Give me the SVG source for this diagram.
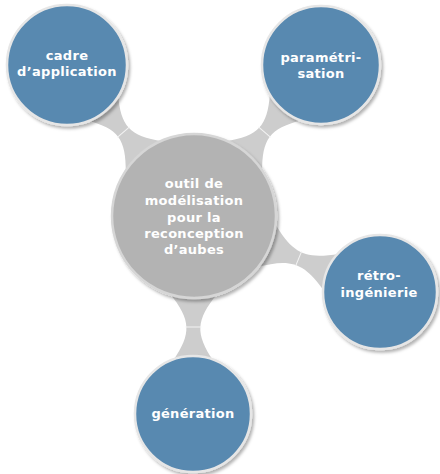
<svg xmlns="http://www.w3.org/2000/svg" width="440" height="474" viewBox="0 0 440 474">
<defs>
<filter id="sh" x="-20%" y="-20%" width="150%" height="150%">
<feDropShadow dx="2" dy="2.5" stdDeviation="1.5" flood-color="#000" flood-opacity="0.3"/>
</filter>
<style>
.conn{fill:#cdcdcd;}
.tick{stroke:#f4f4f4;stroke-width:1;}
.node{fill:#5889b0;stroke:#e6e6e6;stroke-width:2.5;filter:url(#sh);}
.hub{fill:#b3b3b3;stroke:#d6d6d6;stroke-width:2.5;filter:url(#sh);}
text{font-family:"DejaVu Sans",Verdana,sans-serif;font-weight:bold;font-size:13px;fill:#ffffff;text-anchor:middle;letter-spacing:0.3px;}
</style>
</defs>
<rect width="440" height="474" fill="#ffffff"/>
<g id="connectors">
<g transform="translate(194,216) rotate(-130.07)">
<path class="conn" d="M77.4,-24 C103.1,-2 116,-2 141.7,-20 L141.7,20 C116,2 103.1,2 77.4,24 Z"/>
<line class="tick" x1="109.6" y1="-8" x2="109.6" y2="8"/>
</g>
<g transform="translate(194,216) rotate(-49.93)">
<path class="conn" d="M77.4,-24 C103.1,-2 116,-2 141.7,-20 L141.7,20 C116,2 103.1,2 77.4,24 Z"/>
<line class="tick" x1="109.6" y1="-8" x2="109.6" y2="8"/>
</g>
<g transform="translate(194,216) rotate(22.22)">
<path class="conn" d="M77.4,-24 C105.8,-2 120.1,-2 148.5,-20 L148.5,20 C120.1,2 105.8,2 77.4,24 Z"/>
<line class="tick" x1="113" y1="-8" x2="113" y2="8"/>
</g>
<g transform="translate(194,216) rotate(90.29)">
<path class="conn" d="M77.4,-24 C104.3,-2 117.7,-2 144.6,-20 L144.6,20 C117.7,2 104.3,2 77.4,24 Z"/>
<line class="tick" x1="111" y1="-8" x2="111" y2="8"/>
</g>
</g>
<g id="hub">
<circle class="hub" cx="194" cy="216" r="82"/>
<text x="194" y="188">outil de</text>
<text x="194" y="205">modélisation</text>
<text x="194" y="222">pour la</text>
<text x="194" y="238">reconception</text>
<text x="194" y="254">d’aubes</text>
</g>
<g id="cadre">
<circle class="node" cx="67" cy="65" r="60"/>
<text x="67" y="60">cadre</text>
<text x="67" y="76">d’application</text>
</g>
<g id="parametrisation">
<circle class="node" cx="321" cy="65" r="59"/>
<text x="321" y="62">paramétri-</text>
<text x="321" y="78">sation</text>
</g>
<g id="retro">
<circle class="node" cx="380" cy="292" r="57"/>
<text x="379" y="280">rétro-</text>
<text x="379" y="297">ingénierie</text>
</g>
<g id="generation">
<circle class="node" cx="193" cy="414" r="58"/>
<text x="193" y="418">génération</text>
</g>
</svg>
